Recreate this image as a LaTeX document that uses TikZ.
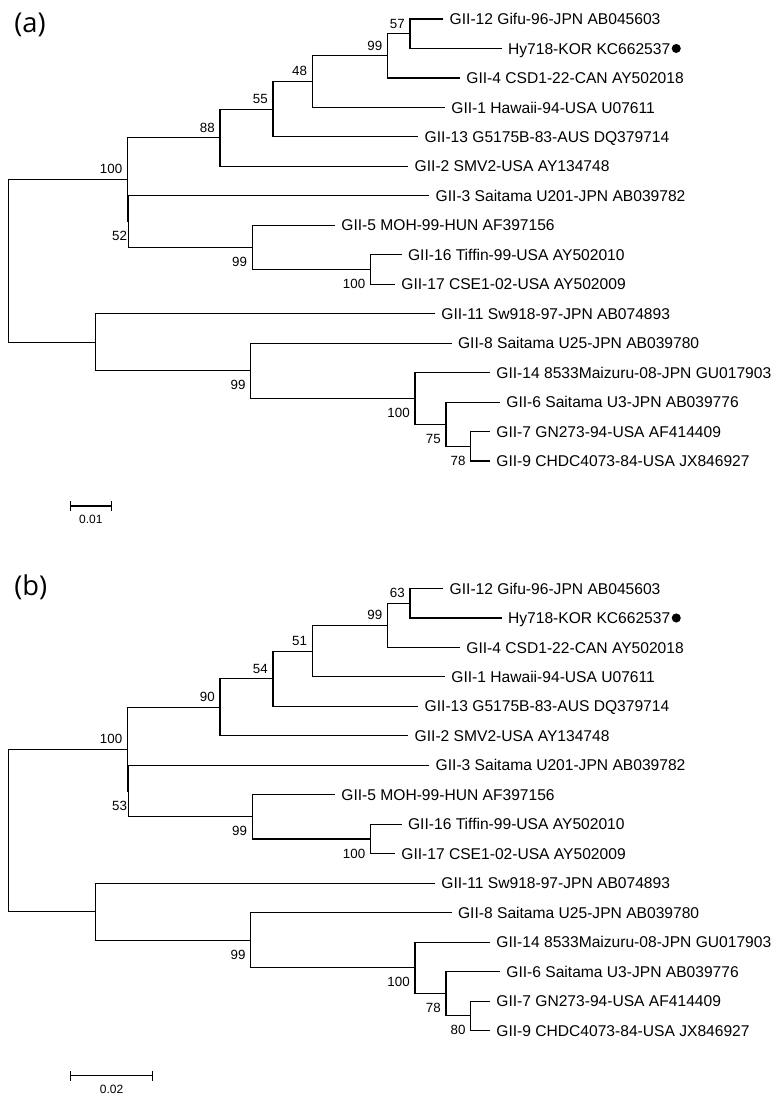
\documentclass[tikz,border=0pt]{standalone}
\usepackage{fontspec}
\setmainfont{Liberation Sans}
\newfontfamily\panelfamily{Open Sans}
\usetikzlibrary{positioning,arrows.meta}

\begin{document}
\begin{tikzpicture}[
  x=0.75pt, y=-0.75pt,
  branch/.style={line width=0.85pt},
  leaf/.style={anchor=west, font={\fontsize{11.7pt}{14pt}\selectfont}, inner xsep=4.6pt, inner ysep=0pt, text height=8.4pt, text depth=0pt},
  boot/.style={anchor=east, font={\fontsize{10pt}{12pt}\selectfont}, inner sep=0pt, text height=7.2pt, text depth=0pt},
  bootup/.style={boot, xshift=-3.75pt, yshift=7.9pt},
  bootdown/.style={boot, xshift=-3.75pt, yshift=-10.7pt},
  hit/.style={circle, fill=black, inner sep=0pt, minimum size=6.8pt},
  tag/.style={anchor=west, inner sep=0pt, font={\panelfamily\fontsize{20.5pt}{24pt}\selectfont}},
  scalebar/.style={line width=0.85pt, {Bar[width=7.5pt]}-{Bar[width=7.5pt]}},
  scaletext/.style={inner sep=0pt, font={\fontsize{9pt}{11pt}\selectfont}, text height=6.5pt, text depth=0pt},
]
\path[use as bounding box, fill=white] (0,0) rectangle (780,1102);

% Two panels with the same topology: (a) and (b), shifted down by \dy.
\foreach \p/\dy/\ly/\bA/\bC/\bD/\bE/\bF/\bK/\bL/\scl/\sclen in {
    a/0/24.7/57/48/55/88/52/75/78/0.01/41.7,
    b/569.5/18/63/51/54/90/53/78/80/0.02/83.3} {

  \node[tag] (\p-tag) at (14, {\dy + \ly}) {(\p)};

  % Leaves: branch end x, row index, label.
  \foreach \name/\x/\i/\txt in {
      g12/443.3/0/GII-12 Gifu-96-JPN AB045603,
      hy/501.7/1/Hy718-KOR KC662537,
      g4/460/2/GII-4 CSD1-22-CAN AY502018,
      g1/445/3/GII-1 Hawaii-94-USA U07611,
      g13/418.3/4/GII-13 G5175B-83-AUS DQ379714,
      g2/408.3/5/GII-2 SMV2-USA AY134748,
      g3/429.3/6/GII-3 Saitama U201-JPN AB039782,
      g5/335/7/GII-5 MOH-99-HUN AF397156,
      g16/401.7/8/GII-16 Tiffin-99-USA AY502010,
      g17/395/9/GII-17 CSE1-02-USA AY502009,
      g11/435/10/GII-11 Sw918-97-JPN AB074893,
      g8/451.7/11/GII-8 Saitama U25-JPN AB039780,
      g14/490/12/GII-14 8533Maizuru-08-JPN GU017903,
      g6/500/13/GII-6 Saitama U3-JPN AB039776,
      g7/490/14/GII-7 GN273-94-USA AF414409,
      g9/490/15/GII-9 CHDC4073-84-USA JX846927} {
    \node[leaf] (\p-\name) at (\x, {\dy + 19 + 29.47*\i}) {\txt};
  }
  % Study strain marker.
  \node[hit, right=-3.9pt of \p-hy] (\p-mark) {};

  % Internal nodes.
  \foreach \name/\x/\y in {
      nA/410/33.75, nB/387.5/55.8, nC/312.3/81.6, nD/273/109.25,
      nE/220/137.8, nH/370.5/269.5, nG/252.3/247.4, nF/128.8/221.6,
      nTop/127.5/179.7, nL/470.7/446.3, nK/446/424.2, nJ/415/398.4,
      nI/250.7/370.8, nLow/95.7/342.25, root/8.3/261} {
    \coordinate (\p-\name) at (\x, {\dy + \y});
  }

  % Branches.
  \draw[branch] (\p-g12.west) -| (\p-nA) |- (\p-hy.west);
  \draw[branch] (\p-nA) -| (\p-nB) |- (\p-g4.west);
  \draw[branch] (\p-nB) -| (\p-nC) |- (\p-g1.west);
  \draw[branch] (\p-nC) -| (\p-nD) |- (\p-g13.west);
  \draw[branch] (\p-nD) -| (\p-nE) |- (\p-g2.west);
  \draw[branch] (\p-g16.west) -| (\p-nH) |- (\p-g17.west);
  \draw[branch] (\p-g5.west) -| (\p-nG) |- (\p-nH);
  \draw[branch] (\p-g3.west) -| (\p-nF) |- (\p-nG);
  \draw[branch] (\p-nE) -| (\p-nTop) |- (\p-nF);
  \draw[branch] (\p-g7.west) -| (\p-nL) |- (\p-g9.west);
  \draw[branch] (\p-g6.west) -| (\p-nK) |- (\p-nL);
  \draw[branch] (\p-g14.west) -| (\p-nJ) |- (\p-nK);
  \draw[branch] (\p-g8.west) -| (\p-nI) |- (\p-nJ);
  \draw[branch] (\p-g11.west) -| (\p-nLow) |- (\p-nI);
  \draw[branch] (\p-nTop) -| (\p-root) |- (\p-nLow);

  % Bootstrap values.
  \node[bootup] (\p-bsA) at (\p-nA) {\bA};
  \node[bootup] (\p-bsB) at (\p-nB) {99};
  \node[bootup] (\p-bsC) at (\p-nC) {\bC};
  \node[bootup] (\p-bsD) at (\p-nD) {\bD};
  \node[bootup] (\p-bsE) at (\p-nE) {\bE};
  \node[bootup] (\p-bsTop) at (\p-nTop) {100};
  \node[bootdown, xshift=2.6pt] (\p-bsF) at (\p-nF) {\bF};
  \node[bootdown] (\p-bsG) at (\p-nG) {99};
  \node[bootdown] (\p-bsH) at (\p-nH) {100};
  \node[bootdown] (\p-bsI) at (\p-nI) {99};
  \node[bootdown] (\p-bsJ) at (\p-nJ) {100};
  \node[bootdown] (\p-bsK) at (\p-nK) {\bK};
  \node[bootdown] (\p-bsL) at (\p-nL) {\bL};

  % Scale bar.
  \coordinate (\p-sbl) at (70, {\dy + 506});
  \coordinate (\p-sbr) at ({70 + \sclen}, {\dy + 506});
  \draw[scalebar] (\p-sbl) -- (\p-sbr);
  \node[scaletext] (\p-sbt) at ({70 + \sclen/2}, {\dy + 519.3}) {\scl};
}

\end{tikzpicture}
\end{document}
